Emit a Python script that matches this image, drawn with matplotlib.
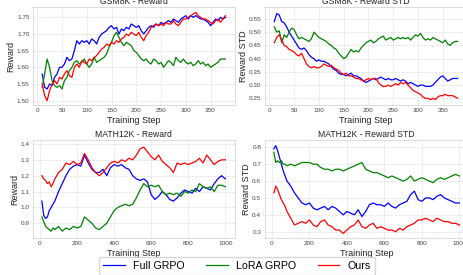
import matplotlib
matplotlib.use("Agg")
import matplotlib.pyplot as plt
import numpy as np

plt.rcParams['font.family'] = ['Liberation Sans', 'DejaVu Sans']

# GSM8K data, every 5 steps
gsm_steps = list(range(10, 385, 5))
gsm_full_reward = [1.58, 1.54, 1.535, 1.55, 1.545, 1.57, 1.58, 1.60, 1.60, 1.61,
                   1.63, 1.62, 1.625, 1.65, 1.68, 1.67, 1.68, 1.675, 1.68, 1.67,
                   1.685, 1.68, 1.67, 1.69, 1.70, 1.705, 1.71, 1.72, 1.725, 1.715,
                   1.72, 1.70, 1.715, 1.71, 1.72, 1.715, 1.73, 1.725, 1.72, 1.725,
                   1.71, 1.70, 1.71, 1.72, 1.725, 1.72, 1.73, 1.725, 1.735, 1.73,
                   1.735, 1.74, 1.735, 1.745, 1.74, 1.735, 1.745, 1.75, 1.755, 1.745,
                   1.755, 1.75, 1.755, 1.75, 1.745, 1.745, 1.74, 1.735, 1.725, 1.735,
                   1.745, 1.74, 1.75, 1.745, 1.75]
gsm_lora_reward = [1.54, 1.58, 1.625, 1.60, 1.56, 1.545, 1.54, 1.545, 1.535, 1.56,
                   1.57, 1.59, 1.60, 1.615, 1.62, 1.61, 1.615, 1.625, 1.61, 1.60,
                   1.61, 1.63, 1.615, 1.62, 1.625, 1.63, 1.64, 1.66, 1.675, 1.695,
                   1.705, 1.69, 1.675, 1.665, 1.675, 1.67, 1.665, 1.65, 1.645, 1.635,
                   1.625, 1.62, 1.625, 1.615, 1.61, 1.625, 1.62, 1.61, 1.615, 1.60,
                   1.61, 1.62, 1.615, 1.605, 1.63, 1.62, 1.615, 1.625, 1.615, 1.61,
                   1.615, 1.605, 1.61, 1.62, 1.61, 1.615, 1.605, 1.61, 1.60, 1.605,
                   1.61, 1.615, 1.625, 1.625, 1.625]
gsm_ours_reward = [1.55, 1.515, 1.50, 1.53, 1.55, 1.56, 1.55, 1.57, 1.565, 1.58,
                   1.59, 1.575, 1.57, 1.60, 1.61, 1.60, 1.62, 1.615, 1.61, 1.625,
                   1.62, 1.63, 1.635, 1.645, 1.655, 1.66, 1.67, 1.665, 1.675, 1.67,
                   1.68, 1.675, 1.685, 1.69, 1.70, 1.695, 1.705, 1.70, 1.695, 1.705,
                   1.69, 1.68, 1.695, 1.705, 1.72, 1.725, 1.73, 1.725, 1.73, 1.725,
                   1.735, 1.73, 1.73, 1.74, 1.73, 1.725, 1.735, 1.745, 1.745, 1.75,
                   1.755, 1.76, 1.765, 1.755, 1.75, 1.745, 1.745, 1.74, 1.735, 1.73,
                   1.74, 1.745, 1.735, 1.745, 1.755]

gsm_full_std = [0.54, 0.57, 0.565, 0.54, 0.535, 0.52, 0.50, 0.485, 0.47, 0.455,
                0.44, 0.435, 0.44, 0.43, 0.415, 0.405, 0.40, 0.39, 0.395, 0.39,
                0.39, 0.385, 0.38, 0.37, 0.36, 0.355, 0.345, 0.34, 0.34, 0.335,
                0.34, 0.345, 0.335, 0.335, 0.33, 0.325, 0.315, 0.31, 0.315, 0.32,
                0.325, 0.32, 0.325, 0.33, 0.325, 0.32, 0.325, 0.32, 0.32, 0.325,
                0.32, 0.315, 0.32, 0.315, 0.305, 0.31, 0.305, 0.30, 0.295, 0.30,
                0.30, 0.295, 0.295, 0.295, 0.30, 0.31, 0.32, 0.33, 0.335, 0.325,
                0.315, 0.32, 0.325, 0.325, 0.325]
gsm_lora_std = [0.52, 0.50, 0.505, 0.46, 0.49, 0.48, 0.50, 0.515, 0.51, 0.49,
                0.475, 0.48, 0.475, 0.47, 0.465, 0.475, 0.50, 0.49, 0.48, 0.475,
                0.47, 0.465, 0.455, 0.45, 0.44, 0.435, 0.42, 0.41, 0.40, 0.405,
                0.42, 0.435, 0.425, 0.43, 0.425, 0.44, 0.45, 0.46, 0.465, 0.47,
                0.46, 0.465, 0.475, 0.48, 0.485, 0.47, 0.475, 0.48, 0.47, 0.475,
                0.48, 0.475, 0.48, 0.475, 0.48, 0.47, 0.48, 0.49, 0.485, 0.495,
                0.48, 0.47, 0.475, 0.47, 0.48, 0.475, 0.47, 0.465, 0.46, 0.47,
                0.455, 0.45, 0.46, 0.465, 0.465]
gsm_ours_std = [0.46, 0.48, 0.49, 0.47, 0.45, 0.445, 0.435, 0.43, 0.425, 0.415,
                0.41, 0.42, 0.40, 0.38, 0.37, 0.365, 0.37, 0.365, 0.365, 0.37,
                0.38, 0.375, 0.37, 0.375, 0.365, 0.36, 0.355, 0.345, 0.34, 0.345,
                0.335, 0.335, 0.33, 0.325, 0.325, 0.32, 0.315, 0.32, 0.325, 0.32,
                0.325, 0.325, 0.31, 0.30, 0.295, 0.295, 0.30, 0.295, 0.30, 0.305,
                0.30, 0.31, 0.305, 0.31, 0.30, 0.29, 0.28, 0.275, 0.27, 0.265,
                0.255, 0.25, 0.25, 0.245, 0.25, 0.245, 0.255, 0.26, 0.26, 0.265,
                0.26, 0.26, 0.26, 0.255, 0.25]

# MATH12K data
math_steps = [10, 20, 30, 40, 50, 60, 70, 80] + list(range(100, 1001, 20))
math_full_reward = [1.04, 0.95, 0.93, 0.94, 0.98, 1.00, 1.02, 1.04,
                    1.10, 1.15, 1.20, 1.24, 1.26, 1.27, 1.26, 1.33, 1.28, 1.24,
                    1.22, 1.22, 1.24, 1.20, 1.25, 1.27, 1.26, 1.27, 1.25, 1.24,
                    1.20, 1.18, 1.17, 1.18, 1.16, 1.08, 1.05, 1.07, 1.10, 1.08,
                    1.05, 1.04, 1.06, 1.09, 1.11, 1.10, 1.09, 1.12, 1.10, 1.13,
                    1.12, 1.11, 1.15, 1.18, 1.20, 1.18]
math_lora_reward = [0.94, 0.91, 0.88, 0.87, 0.86, 0.85, 0.87, 0.86,
                    0.88, 0.85, 0.87, 0.86, 0.88, 0.87, 0.88, 0.94, 0.92, 0.90,
                    0.87, 0.86, 0.88, 0.90, 0.94, 0.98, 1.00, 1.01, 1.02, 1.01,
                    1.02, 1.06, 1.11, 1.15, 1.13, 1.14, 1.13, 1.14, 1.10, 1.08,
                    1.09, 1.08, 1.09, 1.07, 1.10, 1.09, 1.11, 1.10, 1.15, 1.13,
                    1.12, 1.13, 1.10, 1.14, 1.14, 1.13]
math_ours_reward = [1.20, 1.18, 1.17, 1.15, 1.16, 1.13, 1.15, 1.18,
                    1.22, 1.24, 1.28, 1.27, 1.29, 1.27, 1.28, 1.34, 1.30, 1.25,
                    1.22, 1.20, 1.22, 1.25, 1.28, 1.29, 1.28, 1.30, 1.29, 1.31,
                    1.30, 1.33, 1.37, 1.38, 1.35, 1.32, 1.30, 1.33, 1.29, 1.27,
                    1.25, 1.22, 1.28, 1.27, 1.28, 1.27, 1.28, 1.29, 1.31, 1.28,
                    1.33, 1.30, 1.27, 1.29, 1.30, 1.30]

math_full_std = [0.79, 0.81, 0.78, 0.74, 0.70, 0.66, 0.63, 0.60,
                 0.57, 0.53, 0.50, 0.47, 0.46, 0.47, 0.44, 0.43, 0.44, 0.45,
                 0.43, 0.45, 0.44, 0.42, 0.40, 0.42, 0.41, 0.40, 0.43, 0.39,
                 0.42, 0.46, 0.47, 0.46, 0.46, 0.45, 0.47, 0.45, 0.44, 0.46,
                 0.47, 0.48, 0.52, 0.54, 0.49, 0.48, 0.50, 0.50, 0.49, 0.51,
                 0.52, 0.50, 0.49, 0.48, 0.47, 0.47]
math_lora_std = [0.77, 0.71, 0.72, 0.71, 0.72, 0.70, 0.70, 0.69,
                 0.70, 0.69, 0.70, 0.71, 0.71, 0.71, 0.70, 0.70, 0.68, 0.67,
                 0.67, 0.66, 0.67, 0.67, 0.66, 0.67, 0.68, 0.69, 0.70, 0.71,
                 0.67, 0.66, 0.65, 0.65, 0.64, 0.63, 0.62, 0.63, 0.62, 0.61,
                 0.60, 0.61, 0.63, 0.60, 0.61, 0.62, 0.61, 0.60, 0.59, 0.61,
                 0.62, 0.61, 0.62, 0.63, 0.64, 0.63]
math_ours_std = [0.53, 0.57, 0.55, 0.52, 0.49, 0.47, 0.45, 0.42,
                 0.38, 0.34, 0.35, 0.36, 0.35, 0.37, 0.34, 0.33, 0.36, 0.37,
                 0.34, 0.33, 0.31, 0.31, 0.29, 0.31, 0.33, 0.34, 0.37, 0.33,
                 0.32, 0.34, 0.35, 0.32, 0.33, 0.32, 0.31, 0.31, 0.30, 0.32,
                 0.31, 0.33, 0.34, 0.35, 0.37, 0.37, 0.38, 0.37, 0.36, 0.38,
                 0.37, 0.36, 0.36, 0.35, 0.35, 0.34]

labels = ['Full GRPO', 'LoRA GRPO', 'Ours']
colors = ['blue', 'green', 'red']

W, H = 463, 275
fig = plt.figure(figsize=(W / 100, H / 100), dpi=100)

def box(l, t, r, b):
    return [l / W, 1 - b / H, (r - l) / W, (b - t) / H]

panels = [
    (box(33, 7, 234.6, 105), gsm_steps, [gsm_full_reward, gsm_lora_reward, gsm_ours_reward],
     'GSM8K - Reward', 'Reward', (-8.5, 398.5), (1.487, 1.781), np.arange(1.50, 1.76, 0.05), np.arange(0, 351, 50), '%.2f'),
    (box(265.1, 7, 466.8, 105), gsm_steps, [gsm_full_std, gsm_lora_std, gsm_ours_std],
     'GSM8K - Reward STD', 'Reward STD', (-8.5, 398.5), (0.2247, 0.595), np.arange(0.25, 0.56, 0.05), np.arange(0, 351, 50), '%.2f'),
    (box(32.7, 140, 234.5, 238), math_steps, [math_full_reward, math_lora_reward, math_ours_reward],
     'MATH12K - Reward', 'Reward', (-39.5, 1049.5), (0.807, 1.425), np.arange(0.9, 1.41, 0.1), np.arange(0, 1001, 200), '%.1f'),
    (box(264.6, 140, 468.6, 238), math_steps, [math_full_std, math_lora_std, math_ours_std],
     'MATH12K - Reward STD', 'Reward STD', (-39.5, 1049.5), (0.263, 0.843), np.arange(0.3, 0.81, 0.1), np.arange(0, 1001, 200), '%.1f'),
]

for rect, xs, series, title, ylabel, xlim, ylim, yt, xt, fmt in panels:
    ax = fig.add_axes(rect)
    for vals, c, lab in zip(series, colors, labels):
        ax.plot(xs, vals, color=c, linewidth=0.9, label=lab)
    ax.set_xlim(*xlim)
    ax.set_ylim(*ylim)
    ax.set_yticks(yt)
    ax.set_xticks(xt)
    ax.yaxis.set_major_formatter(matplotlib.ticker.FormatStrFormatter(fmt))
    ax.grid(True, linestyle='--', linewidth=0.5, color='#dddddd')
    ax.tick_params(length=0, labelsize=4.6, labelcolor='#444444', pad=2.5)
    for s in ax.spines.values():
        s.set_color('#dddddd')
        s.set_linewidth(0.8)
    ax.set_title(title, fontsize=6.2, color='#222222', pad=2)
    ax.set_xlabel('Training Step', fontsize=6.5, color='#222222', labelpad=1.5)
    ax.set_ylabel(ylabel, fontsize=6.5, color='#222222', labelpad=1)

handles, labs = ax.get_legend_handles_labels()
fig.legend(handles, labs, loc='upper center', bbox_to_anchor=(237 / W, 1 - 251.5 / H),
           ncol=3, fontsize=7.7, frameon=True, edgecolor='#cccccc', fancybox=True,
           handlelength=2, columnspacing=2.0, borderpad=0.4)

fig.savefig('out.png', dpi=100)
